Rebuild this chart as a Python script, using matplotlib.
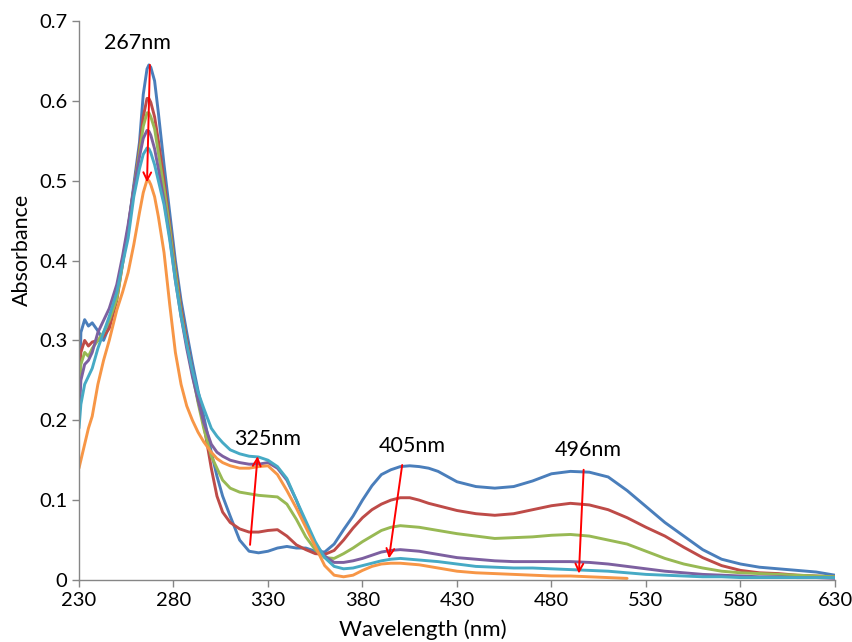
import numpy as np
import matplotlib
matplotlib.use("Agg")
import matplotlib.pyplot as plt

plt.rcParams['font.family'] = ['Lato', 'DejaVu Sans']

# === Data ===
wavelength = [230, 231, 233, 235, 237, 240, 243, 246, 250, 253, 256, 259, 262, 264, 266, 267, 268,
              270, 272, 275, 278, 281, 284, 287, 290, 293, 296, 300, 303, 306, 310, 315, 320, 325,
              330, 335, 340, 345, 350, 355, 360, 365, 370, 375, 380, 385, 390, 395, 400, 405, 410,
              415, 420, 430, 440, 450, 460, 470, 480, 490, 500, 510, 520, 530, 540, 550, 560, 570,
              580, 590, 600, 610, 620, 630]

blue = [0.20, 0.31, 0.326, 0.318, 0.322, 0.312, 0.300, 0.318, 0.36, 0.40, 0.44, 0.495, 0.548, 0.608,
        0.640, 0.645, 0.642, 0.625, 0.585, 0.52, 0.46, 0.40, 0.35, 0.31, 0.272, 0.237, 0.205, 0.16,
        0.13, 0.105, 0.08, 0.05, 0.036, 0.034, 0.036, 0.040, 0.042, 0.040, 0.040, 0.036, 0.035,
        0.045, 0.063, 0.08, 0.10, 0.118, 0.132, 0.138, 0.142, 0.143, 0.142, 0.140, 0.136, 0.123,
        0.117, 0.115, 0.117, 0.124, 0.133, 0.136, 0.135, 0.129, 0.112, 0.092, 0.072, 0.055, 0.038,
        0.026, 0.020, 0.016, 0.014, 0.012, 0.010, 0.006]

red = [0.25, 0.285, 0.30, 0.293, 0.298, 0.30, 0.305, 0.315, 0.35, 0.395, 0.44, 0.49, 0.54, 0.58,
       0.603, 0.603, 0.598, 0.58, 0.55, 0.50, 0.445, 0.39, 0.34, 0.30, 0.262, 0.225, 0.195, 0.14,
       0.105, 0.085, 0.072, 0.064, 0.060, 0.060, 0.062, 0.063, 0.055, 0.044, 0.038, 0.033, 0.032,
       0.037, 0.05, 0.065, 0.078, 0.088, 0.095, 0.10, 0.103, 0.103, 0.100, 0.096, 0.093, 0.087,
       0.083, 0.081, 0.083, 0.088, 0.093, 0.096, 0.094, 0.088, 0.078, 0.066, 0.055, 0.041, 0.028,
       0.018, 0.012, 0.009, 0.008, 0.006, 0.005, 0.004]

green = [0.22, 0.27, 0.285, 0.28, 0.29, 0.30, 0.31, 0.325, 0.352, 0.395, 0.44, 0.49, 0.535, 0.568,
         0.585, 0.585, 0.58, 0.565, 0.535, 0.49, 0.44, 0.385, 0.335, 0.295, 0.258, 0.222, 0.19,
         0.155, 0.14, 0.125, 0.115, 0.11, 0.108, 0.106, 0.105, 0.104, 0.095, 0.076, 0.054, 0.038,
         0.028, 0.027, 0.033, 0.040, 0.048, 0.055, 0.062, 0.066, 0.068, 0.067, 0.066, 0.064, 0.062,
         0.058, 0.055, 0.052, 0.053, 0.054, 0.056, 0.057, 0.055, 0.050, 0.045, 0.036, 0.027, 0.020,
         0.015, 0.011, 0.009, 0.008, 0.007, 0.006, 0.005, 0.004]

purple = [0.20, 0.25, 0.27, 0.275, 0.285, 0.31, 0.325, 0.34, 0.37, 0.405, 0.445, 0.49, 0.53, 0.553,
          0.563, 0.562, 0.557, 0.54, 0.515, 0.475, 0.43, 0.375, 0.33, 0.29, 0.255, 0.225, 0.197,
          0.17, 0.16, 0.155, 0.150, 0.147, 0.145, 0.145, 0.147, 0.14, 0.125, 0.10, 0.07, 0.045,
          0.03, 0.022, 0.022, 0.024, 0.027, 0.031, 0.035, 0.037, 0.038, 0.037, 0.036, 0.034, 0.032,
          0.028, 0.026, 0.024, 0.023, 0.023, 0.023, 0.023, 0.022, 0.020, 0.017, 0.014, 0.011, 0.009,
          0.007, 0.006, 0.005, 0.004, 0.004, 0.003, 0.003, 0.002]

cyan = [0.19, 0.22, 0.245, 0.255, 0.265, 0.29, 0.31, 0.33, 0.36, 0.395, 0.428, 0.48, 0.515, 0.533,
        0.541, 0.54, 0.535, 0.52, 0.50, 0.47, 0.426, 0.375, 0.33, 0.295, 0.262, 0.235, 0.215,
        0.19, 0.18, 0.172, 0.163, 0.158, 0.155, 0.154, 0.150, 0.142, 0.127, 0.10, 0.074, 0.048,
        0.028, 0.017, 0.014, 0.015, 0.018, 0.021, 0.024, 0.026, 0.027, 0.026, 0.025, 0.024, 0.023,
        0.020, 0.017, 0.016, 0.015, 0.015, 0.014, 0.013, 0.012, 0.011, 0.009, 0.007, 0.006, 0.005,
        0.004, 0.004, 0.003, 0.003, 0.003, 0.003, 0.003, 0.003]

orange = [0.14, 0.15, 0.17, 0.19, 0.205, 0.245, 0.275, 0.30, 0.338, 0.36, 0.385, 0.42, 0.46, 0.485,
          0.501, 0.50, 0.495, 0.48, 0.455, 0.41, 0.345, 0.285, 0.245, 0.218, 0.20, 0.185, 0.173,
          0.16, 0.152, 0.147, 0.143, 0.140, 0.140, 0.142, 0.143, 0.132, 0.112, 0.09, 0.066, 0.042,
          0.018, 0.006, 0.004, 0.006, 0.012, 0.017, 0.020, 0.021, 0.021, 0.020, 0.019, 0.017, 0.015,
          0.011, 0.009, 0.008, 0.007, 0.006, 0.005, 0.005, 0.004, 0.003, 0.002, np.nan, np.nan,
          np.nan, np.nan, np.nan, np.nan, np.nan, np.nan, np.nan, np.nan, np.nan]

series = [blue, red, green, purple, cyan, orange]
colors = ['#4A7EBB', '#BE4B48', '#98B954', '#7D60A0', '#46AAC5', '#F79646']

# arrow labels: text, text position, arrow start, arrow end
labels = ['267nm', '325nm', '405nm', '496nm']
label_xy = [(261, 0.673), (330, 0.176), (406.5, 0.168), (499.5, 0.163)]
arrow_from = [(267.5, 0.645), (320.5, 0.044), (401, 0.144), (497, 0.138)]
arrow_to = [(266, 0.498), (324.5, 0.155), (394, 0.027), (494.5, 0.008)]

fig = plt.figure(figsize=(8.53, 6.42), dpi=100)
ax = fig.add_axes([0.0926, 0.0966, 0.8863, 0.8707])

for s, c in zip(series, colors):
    ax.plot(wavelength, s, color=c, lw=2.1, solid_capstyle='round')

for txt, pos, a, b in zip(labels, label_xy, arrow_from, arrow_to):
    ax.annotate('', xy=b, xytext=a,
                arrowprops=dict(arrowstyle='->', color='red', lw=1.4,
                                shrinkA=0, shrinkB=0, mutation_scale=14))
    ax.text(pos[0], pos[1], txt, fontsize=15.5, ha='center', va='center')

ax.set_xlim(230, 630)
ax.set_ylim(0, 0.7)
ax.set_xticks(range(230, 631, 50))
ax.set_yticks(np.arange(0, 0.71, 0.1))
ax.set_yticklabels(['0', '0.1', '0.2', '0.3', '0.4', '0.5', '0.6', '0.7'])

for side in ['top', 'right']:
    ax.spines[side].set_visible(False)
for side in ['left', 'bottom']:
    ax.spines[side].set_color('#868686')
    ax.spines[side].set_linewidth(1)
ax.tick_params(colors='#868686', labelcolor='black', labelsize=14.5, length=5, width=1)

ax.set_xlabel('Wavelength (nm)', fontsize=16)
ax.set_ylabel('Absorbance', fontsize=15.5)
ax.xaxis.set_label_coords(0.455, -0.071)
ax.yaxis.set_label_coords(-0.062, 0.59)

fig.savefig('out.png', dpi=100)
